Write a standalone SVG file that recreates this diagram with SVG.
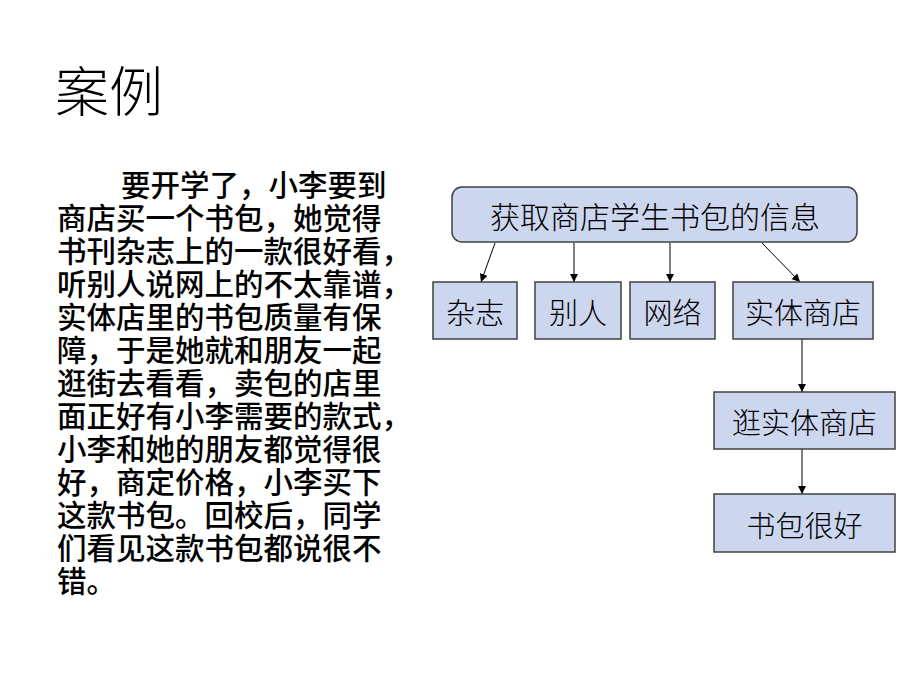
<svg xmlns="http://www.w3.org/2000/svg" width="920" height="690" viewBox="0 0 920 690">
<defs>
<style>
.t{font-family:"Noto Sans CJK SC","Noto Sans CJK JP",sans-serif;fill:#000}
.p{font-family:"Liberation Sans","Noto Sans CJK SC","Noto Sans CJK JP",sans-serif;fill:#000}
.title{font-size:54px;font-weight:300}
.para{font-size:29.5px;font-weight:500}
.lbl{font-size:29px;font-weight:300;text-anchor:middle}
.box{fill:#cdd6ef;stroke:#404040;stroke-width:1.5}
.edge{stroke:#000;stroke-width:1;fill:none;marker-end:url(#ah)}
</style>
<marker id="ah" viewBox="0 0 10 10" refX="10" refY="5" markerWidth="8" markerHeight="8" markerUnits="userSpaceOnUse" orient="auto">
<path d="M0,0 L10,5 L0,10 z" fill="#000"/>
</marker>
</defs>
<rect width="920" height="690" fill="#fff"/>
<text class="t title" x="55" y="112">案例</text>
<g id="paragraph">
<text class="p para"><tspan x="121" y="196">要开学了，小李要到</tspan><tspan x="57" y="229">商店买一个书包，她觉得</tspan><tspan x="57" y="262">书刊杂志上的一款很好看，</tspan><tspan x="57" y="295">听别人说网上的不太靠谱，</tspan><tspan x="57" y="328">实体店里的书包质量有保</tspan><tspan x="57" y="361">障，于是她就和朋友一起</tspan><tspan x="57" y="394">逛街去看看，卖包的店里</tspan><tspan x="57" y="427">面正好有小李需要的款式，</tspan><tspan x="57" y="460">小李和她的朋友都觉得很</tspan><tspan x="57" y="493">好，商定价格，小李买下</tspan><tspan x="57" y="526">这款书包。回校后，同学</tspan><tspan x="57" y="559">们看见这款书包都说很不</tspan><tspan x="57" y="592">错。</tspan></text>
</g>
<g id="connectors">
<line class="edge" x1="495" y1="243" x2="481" y2="282"/>
<line class="edge" x1="574" y1="243" x2="574" y2="282"/>
<line class="edge" x1="670" y1="243" x2="670" y2="282"/>
<line class="edge" x1="762" y1="243" x2="800" y2="282"/>
<line class="edge" x1="802" y1="339" x2="802" y2="392"/>
<line class="edge" x1="802" y1="449" x2="802" y2="494"/>
</g>
<g id="n-info">
<rect class="box" x="452" y="187" width="405" height="55" rx="10"/>
<text class="t lbl" x="655" y="228" style="font-size:30px">获取商店学生书包的信息</text>
</g>
<g id="n-magazine">
<rect class="box" x="433" y="282" width="84" height="57"/>
<text class="t lbl" x="475" y="324">杂志</text>
</g>
<g id="n-others">
<rect class="box" x="535" y="282" width="86" height="57"/>
<text class="t lbl" x="578" y="324">别人</text>
</g>
<g id="n-web">
<rect class="box" x="630" y="282" width="85" height="57"/>
<text class="t lbl" x="672.5" y="324">网络</text>
</g>
<g id="n-store">
<rect class="box" x="733" y="282" width="140" height="57"/>
<text class="t lbl" x="803" y="324">实体商店</text>
</g>
<g id="n-visit">
<rect class="box" x="714" y="392" width="181" height="57"/>
<text class="t lbl" x="804.5" y="434">逛实体商店</text>
</g>
<g id="n-good">
<rect class="box" x="714" y="494" width="181" height="58"/>
<text class="t lbl" x="804.5" y="537">书包很好</text>
</g>
</svg>
